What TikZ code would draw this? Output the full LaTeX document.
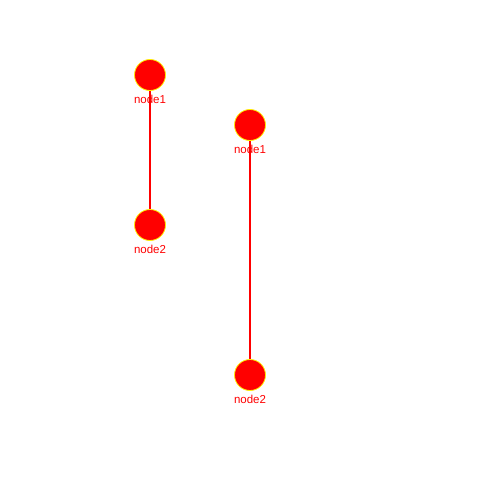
\documentclass[tikz,border=0pt]{standalone}
\usepackage{fontspec}
\setmainfont{Liberation Sans}
\begin{document}
\begin{tikzpicture}[
  x=1pt, y=-1pt,
  font=\fontsize{11.5}{12}\selectfont,
  dot/.style={circle, draw=yellow, fill=red, line width=0.8pt,
              minimum size=31pt, inner sep=0pt,
              label={[text=red, inner sep=0pt, yshift=-4.5pt]below:#1}},
  link/.style={draw=red, line width=1.6pt}
]
\useasboundingbox (0,0) rectangle (500,500);

% first pair
\node[dot=node1] (a1) at (150,75)  {};
\node[dot=node2] (a2) at (150,225) {};
% second pair
\node[dot=node1] (b1) at (250,125) {};
\node[dot=node2] (b2) at (250,375) {};

\draw[link] (a1) -- (a2);
\draw[link] (b1) -- (b2);

\end{tikzpicture}
\end{document}
